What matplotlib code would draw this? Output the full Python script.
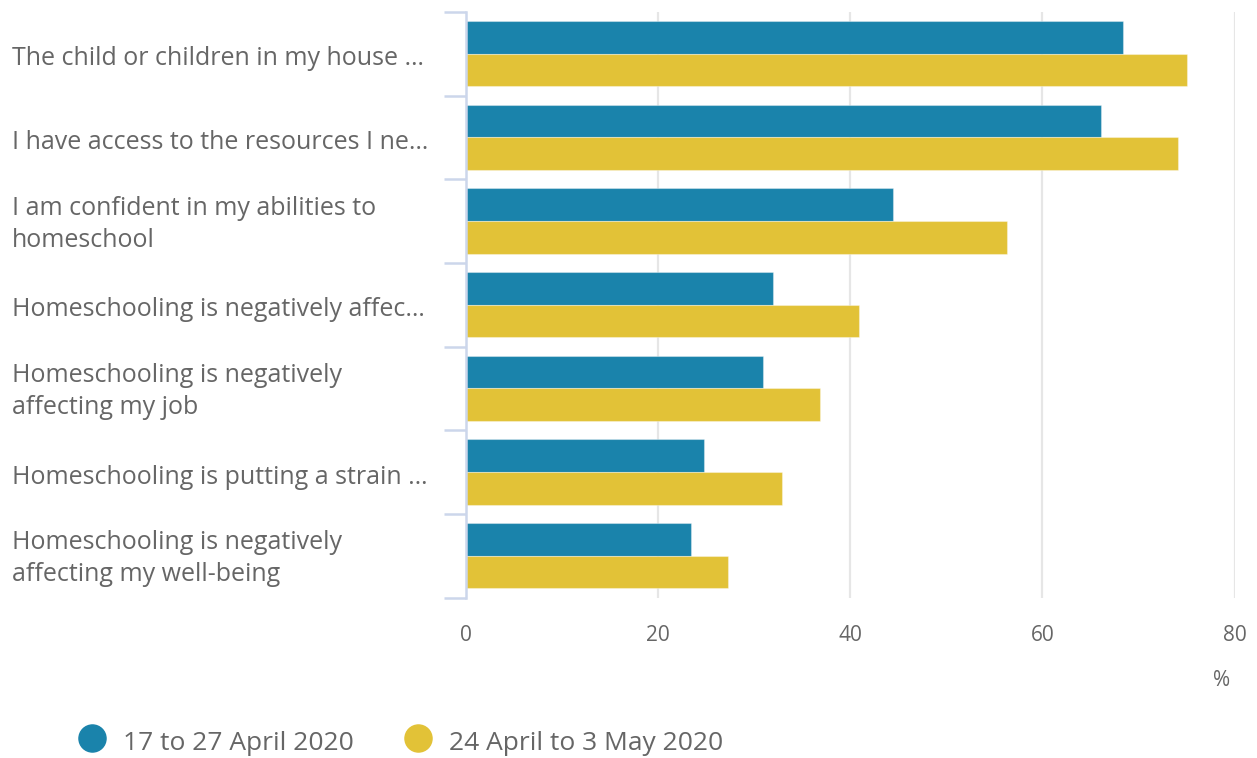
import matplotlib
matplotlib.use("Agg")
from matplotlib import pyplot as plt
from matplotlib import transforms
from matplotlib.lines import Line2D
import numpy as np

plt.rcParams['font.family'] = ['Open Sans', 'DejaVu Sans']

# statements shown on the y axis (long ones cut short the same way the web chart does)
categories = [
    "The child or children in my house \u2026",
    "I have access to the resources I ne\u2026",
    "I am confident in my abilities to\nhomeschool",
    "Homeschooling is negatively affec\u2026",
    "Homeschooling is negatively\naffecting my job",
    "Homeschooling is putting a strain \u2026",
    "Homeschooling is negatively\naffecting my well-being",
]

series_names = ["17 to 27 April 2020", "24 April to 3 May 2020"]
april_17_27 = [68.4, 66.1, 44.4, 32.0, 30.9, 24.8, 23.4]
april24_may3 = [75.0, 74.1, 56.3, 40.9, 36.9, 32.9, 27.3]

x_ticks = [0, 20, 40, 60, 80]

colours = ["#1a83ab", "#e2c237"]
text_grey = "#666666"
axis_blue = "#ccd6eb"

W, H = 1257, 758
fig = plt.figure(figsize=(W / 100, H / 100), dpi=100)

# plot area in pixel terms
left, right, top, bottom = 465.8, 1234.7, 12, 597.5
ax = fig.add_axes([left / W, 1 - bottom / H, (right - left) / W, (bottom - top) / H])

y = np.arange(len(categories))
bar_h = 0.39
for vals, off, col in zip([april_17_27, april24_may3], [-bar_h / 2, bar_h / 2], colours):
    ax.barh(y + off, vals, height=bar_h, color=col, edgecolor=(1, 1, 1, 0.35),
            linewidth=0.8, zorder=2)

ax.set_xlim(0, 80)
ax.set_ylim(len(categories) - 0.5, -0.5)

# vertical gridlines
for t in x_ticks[1:]:
    ax.axvline(t, color="#e6e6e6", lw=1.6, zorder=1)

for s in ["top", "right", "bottom"]:
    ax.spines[s].set_visible(False)
ax.spines["left"].set_color(axis_blue)
ax.spines["left"].set_linewidth(1.8)

ax.set_xticks(x_ticks)
ax.set_xticklabels([str(t) for t in x_ticks])
ax.tick_params(axis="x", length=0, pad=19.5, labelsize=15, labelcolor=text_grey)

# category boundary ticks on the y axis, labels drawn separately
ax.set_yticks(np.arange(len(categories) + 1) - 0.5)
ax.set_yticklabels([])
ax.tick_params(axis="y", length=16, width=1.8, color=axis_blue)

label_tr = transforms.blended_transform_factory(fig.transFigure, ax.transData)
for i, lab in enumerate(categories):
    # single-line labels sit a little lower than wrapped ones
    dy = -3.6 if "\n" not in lab else -2.2
    tr = transforms.offset_copy(label_tr, fig=fig, y=dy, units="points")
    ax.text(12 / W, i, lab, transform=tr, ha="left", va="center",
            fontsize=18, color=text_grey, linespacing=1.37)

fig.text(1222 / W, 1 - 680 / H, "%", ha="center", va="center",
         fontsize=15, color=text_grey)

# legend
for name, col, cx, tx in zip(series_names, colours, [92, 418], [123, 449]):
    fig.add_artist(Line2D([cx / W], [1 - 738 / H], marker="o", markersize=19.5,
                          color=col, linestyle="none", transform=fig.transFigure))
    fig.text(tx / W, 1 - 744 / H, name, ha="left", va="center", fontsize=19,
             color=text_grey)

fig.savefig("out.png", dpi=100)
